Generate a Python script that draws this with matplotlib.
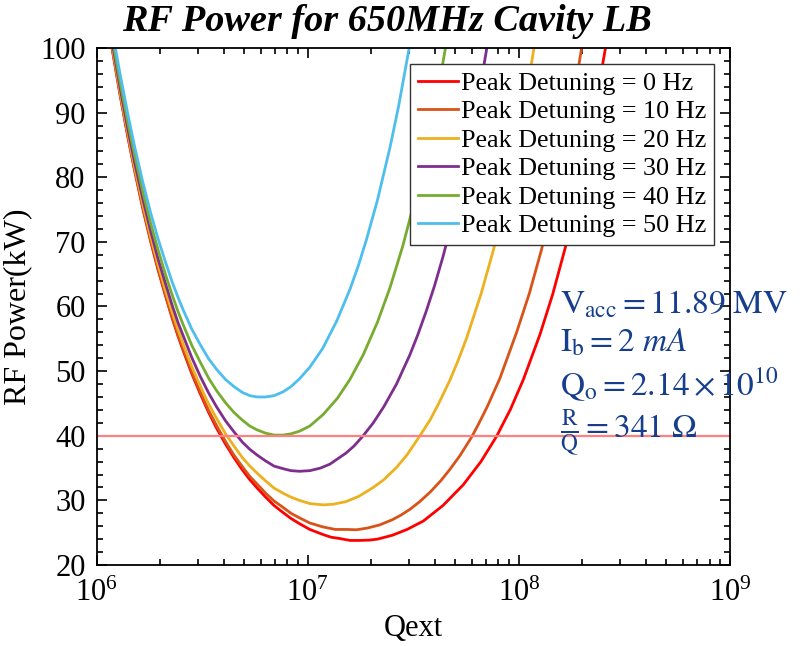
import numpy as np
import matplotlib
matplotlib.use('Agg')
import matplotlib.pyplot as plt
from matplotlib.ticker import MultipleLocator

# ── 資料（x 以 log10(Qext) 表示，y 為 kW）────────────────
# 左半段共用的 x 位置
logq_left = [6.11, 6.148, 6.18, 6.219, 6.255, 6.29, 6.325, 6.357, 6.385, 6.409, 6.45, 6.49,
             6.53, 6.567, 6.61, 6.65, 6.69, 6.725, 6.76, 6.80, 6.84, 6.883, 6.92, 6.96]

logq_0hz = [6.072] + logq_left + [7.009, 7.073, 7.11, 7.15, 7.20, 7.246, 7.29, 7.33, 7.40,
                                  7.47, 7.547, 7.64, 7.736, 7.82, 7.894, 7.96, 8.021, 8.10,
                                  8.16, 8.218, 8.26, 8.31, 8.36, 8.41]
pwr_0hz = [100, 92.8, 86.1, 80.9, 75.0, 70.1, 65.7, 61.7, 58.2, 55.4, 53.2, 49.6, 46.5,
           43.6, 41.2, 38.7, 36.6, 34.7, 33.2, 31.9, 30.5, 29.2, 28.1, 27.2, 26.4,
           25.5, 24.7, 24.3, 24.1, 23.8, 23.8, 23.85, 24.0, 24.6, 25.5, 26.8, 29.2,
           32.4, 36.0, 39.9, 44.1, 48.7, 55.7, 61.9, 68.9, 74.5, 82.1, 90.5, 100]

logq_10hz = [6.073] + logq_left + [7.009, 7.07, 7.13, 7.183, 7.23, 7.28, 7.34, 7.40, 7.44,
                                   7.483, 7.53, 7.58, 7.63, 7.673, 7.72, 7.776, 7.81, 7.85,
                                   7.91, 7.989, 8.05, 8.107, 8.15, 8.20, 8.25, 8.297]
pwr_10hz = [100, 92.9, 86.2, 81.1, 75.2, 70.3, 65.9, 61.9, 58.4, 55.6, 53.5, 49.9, 46.8,
            43.9, 41.6, 39.1, 37.0, 35.2, 33.7, 32.5, 31.1, 29.9, 28.9, 28.0, 27.3,
            26.5, 25.9, 25.5, 25.5, 25.45, 25.7, 26.2, 27.0, 27.7, 28.6, 29.8, 31.3,
            33.05, 34.8, 36.9, 39.8, 41.9, 44.5, 48.9, 56.0, 62.1, 68.8, 74.7, 82.2,
            90.6, 100]

logq_20hz = [6.075] + logq_left + [7.01, 7.073, 7.12, 7.18, 7.24, 7.31, 7.36, 7.42, 7.47,
                                   7.531, 7.58, 7.62, 7.673, 7.71, 7.752, 7.82, 7.878, 7.93,
                                   7.98, 8.03, 8.071]
pwr_20hz = [100, 93.3, 86.7, 81.5, 75.7, 70.8, 66.5, 62.5, 59.1, 56.4, 54.2, 50.7, 47.7,
            44.9, 42.7, 40.3, 38.4, 36.6, 35.3, 34.2, 33.0, 31.9, 31.1, 30.5, 30.0,
            29.5, 29.3, 29.4, 29.8, 30.6, 32.0, 33.2, 35.1, 37.05, 40.0, 42.5, 45.0,
            48.6, 51.5, 55.1, 61.9, 68.6, 75.5, 83.0, 91.5, 100]

logq_30hz = [6.078] + logq_left + [7.01, 7.06, 7.104, 7.18, 7.22, 7.262, 7.31, 7.36, 7.42,
                                   7.483, 7.52, 7.56, 7.60, 7.641, 7.70, 7.75, 7.80, 7.848]
pwr_30hz = [100, 93.9, 87.3, 82.2, 76.5, 71.7, 67.4, 63.6, 60.2, 57.5, 55.5, 52.1, 49.2,
            46.6, 44.5, 42.3, 40.6, 39.0, 37.9, 37.0, 36.1, 35.3, 34.9, 34.6, 34.5,
            34.6, 35.0, 35.6, 37.3, 38.45, 40.0, 42.0, 44.5, 48.0, 52.5, 55.55, 59.2,
            63.2, 67.8, 75.3, 82.6, 90.8, 100]

logq_40hz = [6.082] + logq_left + [7.009, 7.073, 7.14, 7.199, 7.262, 7.33, 7.389, 7.45, 7.499,
                                   7.54, 7.58, 7.615, 7.652]
pwr_40hz = [100, 94.8, 88.3, 83.3, 77.6, 72.9, 68.8, 65.0, 61.8, 59.2, 57.2, 54.0, 51.4,
            48.9, 47.0, 45.1, 43.6, 42.4, 41.5, 40.9, 40.4, 40.1, 40.1, 40.3, 40.7,
            41.5, 43.3, 45.8, 48.7, 52.5, 57.6, 62.9, 69.4, 75.5, 81.1, 87.3, 93.2, 100]

logq_50hz = [6.088] + logq_left + [7.009, 7.07, 7.136, 7.20, 7.24, 7.278, 7.33, 7.389, 7.43,
                                   7.48]
pwr_50hz = [100, 96.0, 89.6, 84.6, 79.1, 74.5, 70.5, 66.9, 63.8, 61.4, 59.5, 56.5, 54.1,
            51.9, 50.3, 48.7, 47.6, 46.7, 46.2, 46.0, 46.0, 46.2, 46.8, 47.6, 48.8,
            50.6, 53.5, 57.7, 62.7, 66.4, 70.4, 76.5, 84.6, 91.0, 100]

labels = ['Peak Detuning = 0 Hz', 'Peak Detuning = 10 Hz', 'Peak Detuning = 20 Hz',
          'Peak Detuning = 30 Hz', 'Peak Detuning = 40 Hz', 'Peak Detuning = 50 Hz']
colors = ['#ff0000', '#d95319', '#edb120', '#7e2f8e', '#77ac30', '#4dbeee']
limit_kw = 40

plt.rcParams['font.family'] = ['Liberation Serif', 'DejaVu Serif']
plt.rcParams['mathtext.fontset'] = 'stix'

# ── 畫圖 ──────────────────────────────────────────────────
fig = plt.figure(figsize=(8, 6.46), dpi=100)
ax = fig.add_axes([0.121, 0.1254, 0.7915, 0.8003])

series = [(logq_0hz, pwr_0hz), (logq_10hz, pwr_10hz), (logq_20hz, pwr_20hz),
          (logq_30hz, pwr_30hz), (logq_40hz, pwr_40hz), (logq_50hz, pwr_50hz)]
for (lq, p), c, lab in zip(series, colors, labels):
    ax.plot(10 ** np.array(lq), p, color=c, lw=2.0, label=lab)

ax.axhline(limit_kw, color='#ff8080', lw=1.6)

ax.set_xscale('log')
ax.set_xlim(1e6, 1e9)
ax.set_ylim(20, 100)
ax.yaxis.set_major_locator(MultipleLocator(10))
ax.yaxis.set_minor_locator(MultipleLocator(2))
ax.tick_params(which='both', direction='in', top=True, right=True, width=1.2)
ax.tick_params(which='major', length=7, labelsize=22, pad=8)
ax.tick_params(which='minor', length=4)
ax.tick_params(axis='x', pad=10)
for s in ax.spines.values():
    s.set_linewidth(1.3)

ax.set_xlabel('Qext', fontsize=22, labelpad=4)
ax.set_ylabel('RF Power(kW)', fontsize=23, labelpad=6)
fig.text(0.484, 0.966, 'RF Power for 650MHz Cavity LB', fontsize=27.5,
         fontweight='bold', fontstyle='italic', ha='center', va='center')

leg = ax.legend(loc='upper right', fontsize=18.8, frameon=True, fancybox=False,
                edgecolor='#333333', framealpha=1, handlelength=1.55,
                handletextpad=0.12, labelspacing=0.2, borderpad=0.3,
                borderaxespad=0.6)
leg.get_frame().set_linewidth(1.0)

# ── 參數說明文字 ──────────────────────────────────────────
note_color = '#173e8c'
notes = [r'$\mathrm{V_{acc}} = 11.89\ \mathrm{MV}$',
         r'$\mathrm{I_b} = 2\ mA$',
         r'$\mathrm{Q_o} = 2.14 \times 10^{10}$',
         r'$\frac{\mathrm{R}}{\mathrm{Q}} = 341\ \Omega$']
note_y = [0.503, 0.429, 0.350, 0.255]
for t, y in zip(notes, note_y):
    ax.text(0.731, y, t, transform=ax.transAxes, fontsize=24, color=note_color,
            va='center', ha='left', clip_on=False)

fig.savefig('out.png', dpi=100)
